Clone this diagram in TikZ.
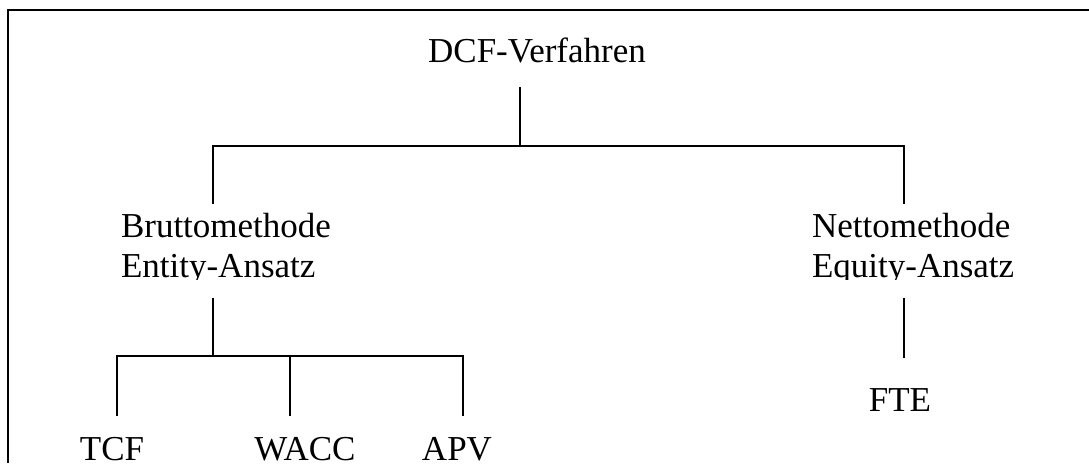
\documentclass[tikz,border=0pt]{standalone}
\usepackage{fontspec}
\setmainfont{Liberation Serif}
\begin{document}
\begin{tikzpicture}[x=1pt,y=-1pt,
  lbl/.style={inner sep=0pt,outer sep=0pt,font=\fontsize{35}{40}\selectfont},
  conn/.style={line width=1.3pt,line cap=rect},
  frame/.style={line width=1.6pt}]
\useasboundingbox (0,0) rectangle (1089,463);
% frame (cropped)
\draw[frame] (1089,10) -- (8,10) -- (8,463);
% texts
\node[lbl,anchor=base] (dcf) at (537,62) {DCF-Verfahren};
\begin{scope}
\clip (0,160) rectangle (1089,279);
\node[lbl,anchor=base west,align=left] (brutto) at (121,277) {Bruttomethode\\Entity-Ansatz};
\node[lbl,anchor=base west,align=left] (netto) at (812,277) {Nettomethode\\Equity-Ansatz};
\end{scope}
\node[lbl,anchor=base] (tcf) at (112,460) {TCF};
\node[lbl,anchor=base] (wacc) at (305,460) {WACC};
\node[lbl,anchor=base] (apv) at (457,460) {APV};
\node[lbl,anchor=base] (fte) at (900,411) {FTE};
% junction coordinates
\coordinate (d0) at (520,88);
\coordinate (j1) at (520,146);
\coordinate (bl) at (213,146);
\coordinate (br) at (904,146);
\coordinate (btop) at (213,203);
\coordinate (ntop) at (904,203);
\coordinate (bbot) at (213,299);
\coordinate (j2) at (213,356);
\coordinate (t1) at (117,356);
\coordinate (t2) at (290,356);
\coordinate (t3) at (463,356);
\coordinate (tcfT) at (117,415);
\coordinate (waccT) at (290,415);
\coordinate (apvT) at (463,415);
\coordinate (nbot) at (904,299);
\coordinate (fteT) at (904,357);
% connectors
\draw[conn] (d0) -- (j1);
\draw[conn] (btop) -- (bl) -- (br) -- (ntop);
\draw[conn] (bbot) -- (j2);
\draw[conn] (tcfT) -- (t1) -- (t3) -- (apvT);
\draw[conn] (t2) -- (waccT);
\draw[conn] (nbot) -- (fteT);
\end{tikzpicture}
\end{document}
